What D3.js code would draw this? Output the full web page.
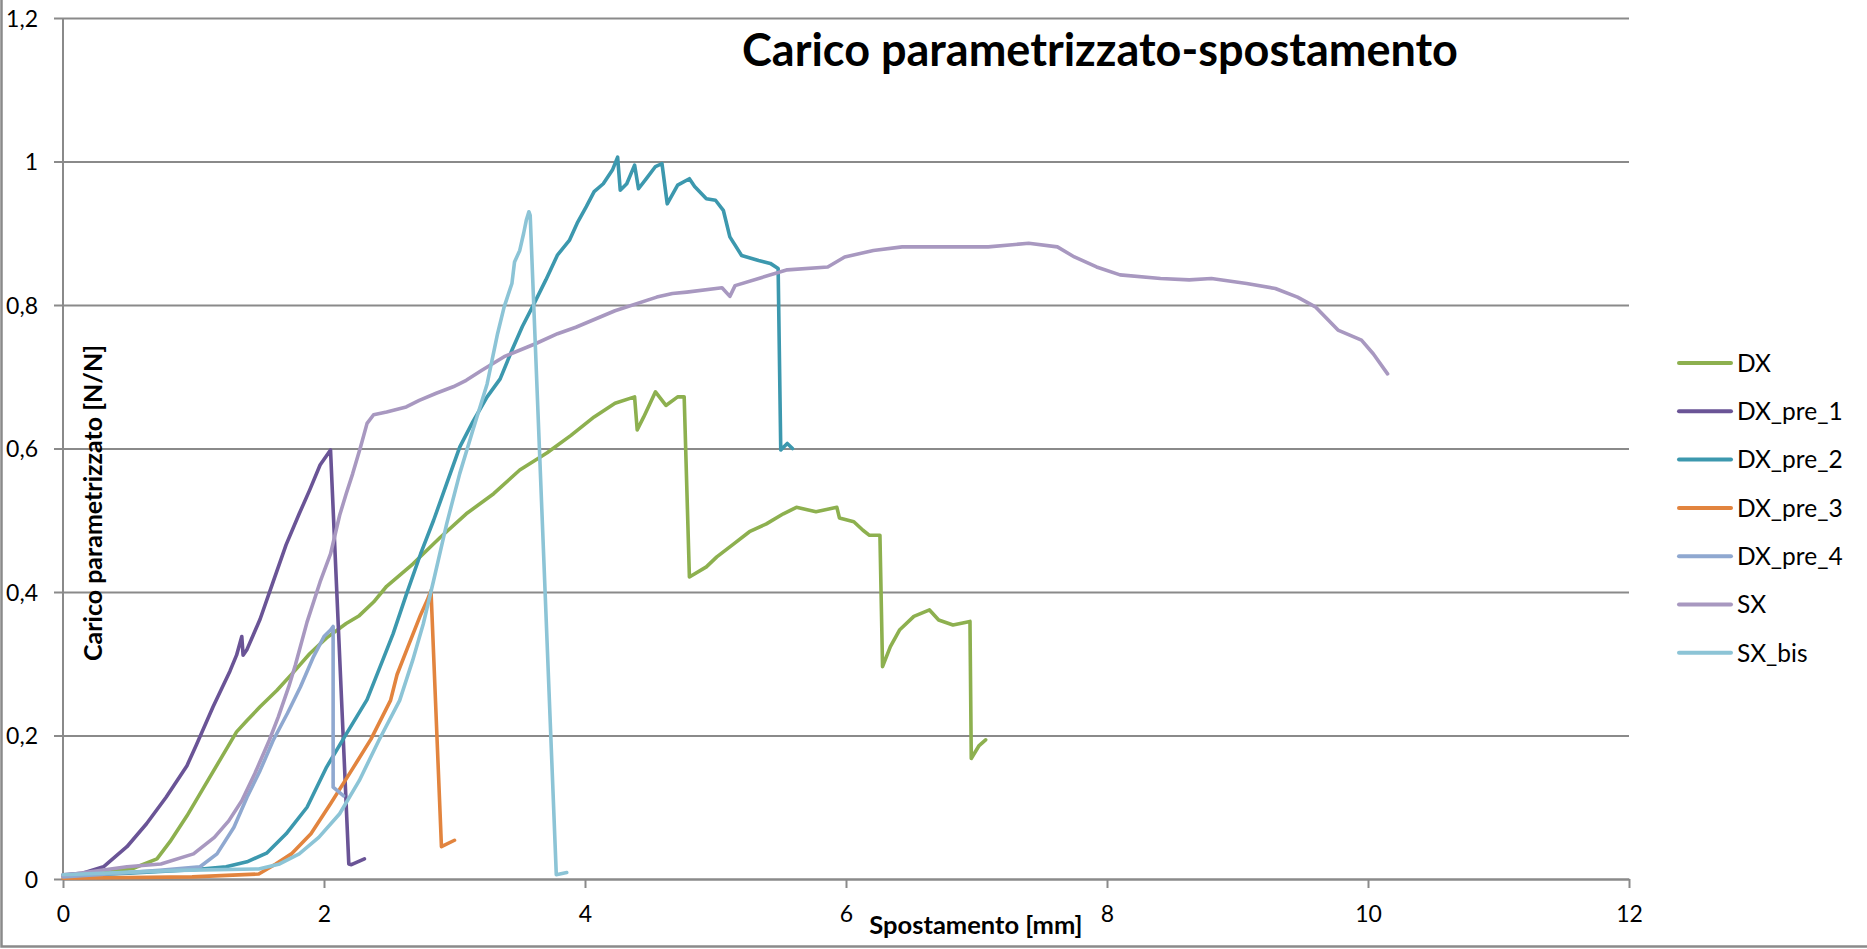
<!DOCTYPE html>
<html>
<head>
<meta charset="utf-8">
<script src="https://cdn.jsdelivr.net/npm/d3@7"></script>
<style>
  html, body { margin: 0; padding: 0; background: #fff; }
  svg { display: block; }
  text { font-family: Lato, "Open Sans", sans-serif; fill: #000; }
</style>
</head>
<body>
<svg id="chart" width="1867" height="949"></svg>
<script>
// Axis ticks (Italian decimal comma)
const xTickValues = [0, 2, 4, 6, 8, 10, 12];
const xTickLabels = ["0", "2", "4", "6", "8", "10", "12"];
const yTickValues = [0, 0.2, 0.4, 0.6, 0.8, 1.0, 1.2];
const yTickLabels = ["0", "0,2", "0,4", "0,6", "0,8", "1", "1,2"];

const seriesNames = ["DX", "DX_pre_1", "DX_pre_2", "DX_pre_3", "DX_pre_4", "SX", "SX_bis"];
const seriesColors = ["#8db04f", "#6a5496", "#3c98ae", "#e2843e", "#8fa8d0", "#a898c0", "#8cc4d6"];

// [spostamento mm, carico parametrizzato N/N]
const dx = [[0,0.005],[0.3,0.008],[0.54,0.015],[0.72,0.028],[0.82,0.052],[0.95,0.088],[1.08,0.128],[1.20,0.165],[1.33,0.205],[1.41,0.221],[1.51,0.240],[1.64,0.263],[1.77,0.289],[1.89,0.314],[2.02,0.336],[2.17,0.356],[2.27,0.367],[2.38,0.386],[2.48,0.408],[2.68,0.439],[2.89,0.476],[3.09,0.509],[3.30,0.537],[3.50,0.570],[3.71,0.594],[3.89,0.618],[4.07,0.644],[4.23,0.663],[4.38,0.672],[4.40,0.626],[4.45,0.644],[4.54,0.679],[4.62,0.660],[4.71,0.672],[4.76,0.672],[4.80,0.421],[4.93,0.435],[5.01,0.449],[5.14,0.467],[5.26,0.484],[5.39,0.495],[5.52,0.509],[5.62,0.518],[5.77,0.512],[5.93,0.518],[5.95,0.503],[6.06,0.498],[6.13,0.486],[6.18,0.479],[6.26,0.479],[6.28,0.296],[6.34,0.324],[6.41,0.347],[6.52,0.366],[6.64,0.375],[6.71,0.361],[6.82,0.354],[6.95,0.359],[6.96,0.168],[7.02,0.186],[7.07,0.194]];

const dxPre1 = [[0,0.006],[0.15,0.008],[0.31,0.017],[0.49,0.045],[0.64,0.077],[0.79,0.114],[0.95,0.158],[1.02,0.186],[1.15,0.240],[1.28,0.290],[1.33,0.312],[1.37,0.338],[1.38,0.312],[1.41,0.320],[1.51,0.362],[1.61,0.414],[1.71,0.466],[1.81,0.509],[1.89,0.542],[1.97,0.577],[2.05,0.598],[2.19,0.021],[2.21,0.020],[2.31,0.028]];

const dxPre2 = [[0,0.004],[0.5,0.008],[1.00,0.013],[1.25,0.017],[1.41,0.024],[1.56,0.036],[1.71,0.063],[1.87,0.100],[2.02,0.156],[2.17,0.202],[2.33,0.250],[2.45,0.305],[2.53,0.342],[2.63,0.396],[2.74,0.453],[2.84,0.500],[2.94,0.551],[3.04,0.602],[3.14,0.637],[3.25,0.672],[3.35,0.697],[3.44,0.737],[3.52,0.770],[3.61,0.802],[3.70,0.835],[3.79,0.870],[3.88,0.890],[3.94,0.914],[4.01,0.937],[4.07,0.958],[4.14,0.969],[4.21,0.988],[4.25,1.006],[4.27,0.960],[4.32,0.969],[4.38,0.995],[4.41,0.962],[4.47,0.976],[4.54,0.993],[4.59,0.997],[4.63,0.941],[4.71,0.967],[4.80,0.976],[4.84,0.965],[4.93,0.948],[5.00,0.946],[5.06,0.932],[5.11,0.895],[5.20,0.869],[5.33,0.862],[5.42,0.858],[5.48,0.851],[5.50,0.598],[5.55,0.607],[5.59,0.600]];

const dxPre3 = [[0,0.001],[0.99,0.003],[1.50,0.007],[1.63,0.021],[1.75,0.035],[1.90,0.063],[2.05,0.105],[2.21,0.151],[2.36,0.195],[2.51,0.249],[2.56,0.285],[2.64,0.322],[2.74,0.368],[2.79,0.388],[2.82,0.402],[2.90,0.045],[3.00,0.054]];

const dxPre4 = [[0,0.003],[0.74,0.012],[1.05,0.017],[1.18,0.035],[1.31,0.072],[1.41,0.114],[1.51,0.151],[1.61,0.193],[1.72,0.231],[1.82,0.268],[1.92,0.310],[2.00,0.338],[2.05,0.347],[2.07,0.352],[2.07,0.128],[2.15,0.116]];

const sx = [[0,0.005],[0.49,0.017],[0.75,0.021],[1.00,0.035],[1.16,0.058],[1.27,0.081],[1.37,0.109],[1.47,0.147],[1.58,0.193],[1.65,0.226],[1.73,0.268],[1.78,0.298],[1.87,0.358],[1.97,0.414],[2.05,0.453],[2.12,0.507],[2.17,0.537],[2.22,0.565],[2.28,0.602],[2.33,0.635],[2.38,0.647],[2.48,0.651],[2.63,0.658],[2.73,0.667],[2.86,0.677],[2.99,0.686],[3.09,0.695],[3.21,0.709],[3.38,0.728],[3.62,0.746],[3.79,0.760],[3.93,0.769],[4.23,0.792],[4.55,0.811],[4.67,0.816],[4.78,0.818],[5.05,0.824],[5.11,0.812],[5.15,0.827],[5.35,0.838],[5.55,0.849],[5.86,0.853],[5.99,0.867],[6.21,0.876],[6.43,0.881],[6.78,0.881],[7.09,0.881],[7.40,0.886],[7.62,0.881],[7.75,0.867],[7.92,0.853],[8.10,0.842],[8.41,0.837],[8.63,0.835],[8.80,0.837],[9.07,0.830],[9.29,0.823],[9.46,0.811],[9.60,0.797],[9.77,0.765],[9.95,0.751],[10.04,0.732],[10.15,0.704]];

const sxBis = [[0,0.006],[0.88,0.012],[1.50,0.014],[1.66,0.021],[1.81,0.035],[1.96,0.058],[2.12,0.091],[2.27,0.137],[2.42,0.193],[2.58,0.249],[2.68,0.305],[2.76,0.355],[2.84,0.416],[2.94,0.495],[3.04,0.565],[3.14,0.625],[3.25,0.690],[3.33,0.760],[3.38,0.797],[3.44,0.830],[3.46,0.860],[3.50,0.876],[3.53,0.900],[3.55,0.918],[3.57,0.930],[3.58,0.925],[3.78,0.006],[3.86,0.009]];

const seriesData = [dx, dxPre1, dxPre2, dxPre3, dxPre4, sx, sxBis];

// ---- layout ----
const svg = d3.select("#chart");
const W = 1867, H = 949;
const plot = { left: 63, right: 1629, top: 18, bottom: 879 };
const gridColor = "#8a8a8a";

svg.append("rect").attr("width", W).attr("height", H).attr("fill", "#fff");

// outer chart frame (left and bottom edges visible)
svg.append("path")
  .attr("d", `M1.5,0 V946.5 H${W}`)
  .attr("fill", "none").attr("stroke", gridColor).attr("stroke-width", 2.5);

const x = d3.scaleLinear().domain([0, 12]).range([plot.left, plot.right]);
const y = d3.scaleLinear().domain([0, 1.2]).range([plot.bottom, plot.top]);

// horizontal gridlines + y tick labels
const yAxis = d3.axisLeft(y)
  .tickValues(yTickValues)
  .tickFormat((d, i) => yTickLabels[i])
  .tickSizeOuter(0);
const gy = svg.append("g").attr("transform", `translate(${plot.left},0)`).call(yAxis);
gy.select(".domain").remove();
gy.selectAll(".tick line")
  .attr("x1", -9).attr("x2", plot.right - plot.left)
  .attr("stroke", gridColor).attr("stroke-width", 2);
gy.selectAll(".tick text")
  .attr("x", -25).attr("dy", "0.35em")
  .style("font-size", "23px").style("font-family", "Lato, sans-serif")
  .attr("fill", "#000");

// vertical axis line
svg.append("line")
  .attr("x1", plot.left).attr("x2", plot.left)
  .attr("y1", plot.top).attr("y2", plot.bottom)
  .attr("stroke", gridColor).attr("stroke-width", 2);

// x axis
const xAxis = d3.axisBottom(x)
  .tickValues(xTickValues)
  .tickFormat((d, i) => xTickLabels[i])
  .tickSizeInner(9).tickSizeOuter(0);
const gx = svg.append("g").attr("transform", `translate(0,${plot.bottom})`).call(xAxis);
gx.select(".domain").attr("stroke", gridColor).attr("stroke-width", 2);
gx.selectAll(".tick line").attr("stroke", gridColor).attr("stroke-width", 2);
gx.selectAll(".tick text")
  .attr("y", 43).attr("dy", 0)
  .style("font-size", "23px").style("font-family", "Lato, sans-serif")
  .attr("fill", "#000");

// axis titles
svg.append("text")
  .attr("x", 976).attr("y", 934)
  .attr("text-anchor", "middle")
  .style("font-size", "25.5px").style("font-weight", "bold")
  .text("Spostamento [mm]");

svg.append("text")
  .attr("transform", "translate(102,503) rotate(-90)")
  .attr("text-anchor", "middle")
  .style("font-size", "25px").style("font-weight", "bold")
  .text("Carico parametrizzato [N/N]");

// series
const line = d3.line().x(d => x(d[0])).y(d => y(d[1]));
svg.append("g").selectAll("path")
  .data(seriesData)
  .join("path")
  .attr("d", line)
  .attr("fill", "none")
  .attr("stroke", (d, i) => seriesColors[i])
  .attr("stroke-width", 3.6)
  .attr("stroke-linejoin", "round")
  .attr("stroke-linecap", "round");

// title
svg.append("text")
  .attr("x", 1100).attr("y", 66)
  .attr("text-anchor", "middle")
  .style("font-size", "45px").style("font-weight", "bold")
  .text("Carico parametrizzato-spostamento");

// legend
const legend = svg.append("g").attr("transform", "translate(1679,363)");
const rows = legend.selectAll("g")
  .data(seriesNames)
  .join("g")
  .attr("transform", (d, i) => `translate(0,${i * 48.3})`);
rows.append("line")
  .attr("x1", 0).attr("x2", 52)
  .attr("stroke", (d, i) => seriesColors[i])
  .attr("stroke-width", 4).attr("stroke-linecap", "round");
rows.append("text")
  .attr("x", 58).attr("dy", "0.36em")
  .style("font-size", "24.5px")
  .text(d => d);
</script>
</body>
</html>
